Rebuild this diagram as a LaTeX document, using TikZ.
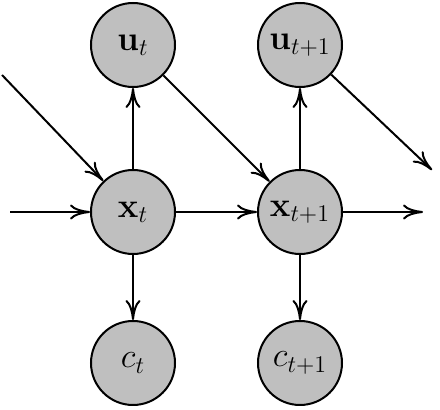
\documentclass[tikz,border=0pt]{standalone}
\usetikzlibrary{arrows.meta}
\begin{document}
\begin{tikzpicture}[x=0.5pt,y=-0.5pt,
  var/.style={circle,draw,fill=gray!50,line width=1pt,minimum size=42pt,inner sep=0pt,font=\LARGE},
  conn/.style={line width=1pt,-{To[length=10pt,width=7.5pt,line width=1pt]}}]
\useasboundingbox (0,0) rectangle (440,410);
\node[var] (ut) at (133,45) {$\mathbf{u}_t$};
\node[var] (ut1) at (300,45) {$\mathbf{u}_{t+1}$};
\node[var] (xt) at (133,212) {$\mathbf{x}_t$};
\node[var] (xt1) at (300,212) {$\mathbf{x}_{t+1}$};
\node[var] (ct) at (133,363) {$c_t$};
\node[var] (ct1) at (300,363) {$c_{t+1}$};
\coordinate (ind) at (2,75);
\coordinate (inh) at (10,212);
\coordinate (outd) at (432,170);
\coordinate (outh) at (423,212);
\draw[conn] (ind) -- (xt);
\draw[conn] (inh) -- (xt);
\draw[conn] (xt) -- (ut);
\draw[conn] (ut) -- (xt1);
\draw[conn] (xt) -- (xt1);
\draw[conn] (xt) -- (ct);
\draw[conn] (xt1) -- (ut1);
\draw[conn] (xt1) -- (ct1);
\draw[conn] (ut1) -- (outd);
\draw[conn] (xt1) -- (outh);
\end{tikzpicture}
\end{document}
